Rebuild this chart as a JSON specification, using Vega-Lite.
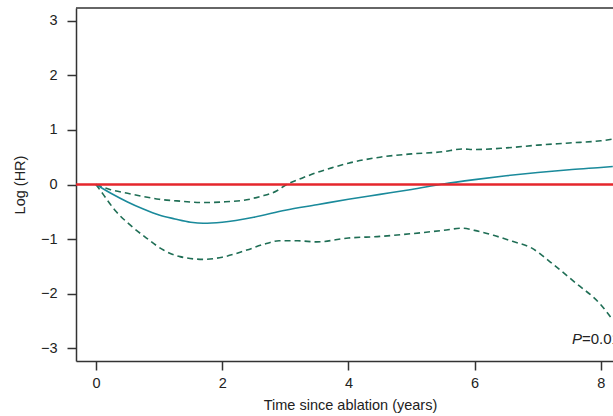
{
  "$schema": "https://vega.github.io/schema/vega-lite/v6.json",
  "width": 537,
  "height": 353,
  "autosize": {"type": "none"},
  "padding": {"left": 76, "top": 8, "right": 0, "bottom": 55},
  "background": "white",
  "config": {
    "view": {"stroke": null},
    "font": "Liberation Sans",
    "axis": {
      "grid": false,
      "labelFont": "Liberation Sans",
      "titleFont": "Liberation Sans",
      "labelFontSize": 14.5,
      "titleFontSize": 14.5,
      "titleFontWeight": "normal",
      "labelColor": "#222",
      "titleColor": "#222",
      "domainColor": "#333",
      "tickColor": "#333",
      "domainWidth": 1.5,
      "tickWidth": 1.5,
      "tickSize": 9
    }
  },
  "datasets": {
    "curves": [
      {"x": 0, "y": 0, "s": "est"},
      {"x": 0.25, "y": -0.17, "s": "est"},
      {"x": 0.5, "y": -0.32, "s": "est"},
      {"x": 0.75, "y": -0.45, "s": "est"},
      {"x": 1.0, "y": -0.56, "s": "est"},
      {"x": 1.25, "y": -0.63, "s": "est"},
      {"x": 1.5, "y": -0.69, "s": "est"},
      {"x": 1.7, "y": -0.71, "s": "est"},
      {"x": 2.0, "y": -0.69, "s": "est"},
      {"x": 2.5, "y": -0.6, "s": "est"},
      {"x": 3.0, "y": -0.47, "s": "est"},
      {"x": 3.5, "y": -0.37, "s": "est"},
      {"x": 4.0, "y": -0.27, "s": "est"},
      {"x": 4.5, "y": -0.18, "s": "est"},
      {"x": 5.0, "y": -0.09, "s": "est"},
      {"x": 5.5, "y": 0.01, "s": "est"},
      {"x": 6.0, "y": 0.09, "s": "est"},
      {"x": 6.5, "y": 0.16, "s": "est"},
      {"x": 7.0, "y": 0.22, "s": "est"},
      {"x": 7.5, "y": 0.27, "s": "est"},
      {"x": 8.0, "y": 0.31, "s": "est"},
      {"x": 8.19, "y": 0.33, "s": "est"},
      {"x": 0, "y": 0, "s": "hi"},
      {"x": 0.22, "y": -0.09, "s": "hi"},
      {"x": 0.5, "y": -0.16, "s": "hi"},
      {"x": 0.75, "y": -0.22, "s": "hi"},
      {"x": 1.0, "y": -0.27, "s": "hi"},
      {"x": 1.28, "y": -0.3, "s": "hi"},
      {"x": 1.7, "y": -0.33, "s": "hi"},
      {"x": 2.0, "y": -0.32, "s": "hi"},
      {"x": 2.39, "y": -0.28, "s": "hi"},
      {"x": 2.6, "y": -0.22, "s": "hi"},
      {"x": 2.86, "y": -0.12, "s": "hi"},
      {"x": 3.02, "y": 0.0, "s": "hi"},
      {"x": 3.25, "y": 0.11, "s": "hi"},
      {"x": 3.5, "y": 0.22, "s": "hi"},
      {"x": 3.75, "y": 0.31, "s": "hi"},
      {"x": 4.0, "y": 0.39, "s": "hi"},
      {"x": 4.5, "y": 0.5, "s": "hi"},
      {"x": 5.0, "y": 0.56, "s": "hi"},
      {"x": 5.5, "y": 0.6, "s": "hi"},
      {"x": 5.8, "y": 0.65, "s": "hi"},
      {"x": 6.0, "y": 0.64, "s": "hi"},
      {"x": 6.5, "y": 0.67, "s": "hi"},
      {"x": 7.0, "y": 0.72, "s": "hi"},
      {"x": 7.5, "y": 0.76, "s": "hi"},
      {"x": 8.0, "y": 0.8, "s": "hi"},
      {"x": 8.19, "y": 0.83, "s": "hi"},
      {"x": 0, "y": 0, "s": "lo"},
      {"x": 0.12, "y": -0.19, "s": "lo"},
      {"x": 0.3, "y": -0.47, "s": "lo"},
      {"x": 0.54, "y": -0.74, "s": "lo"},
      {"x": 0.8, "y": -0.98, "s": "lo"},
      {"x": 1.07, "y": -1.2, "s": "lo"},
      {"x": 1.33, "y": -1.32, "s": "lo"},
      {"x": 1.7, "y": -1.37, "s": "lo"},
      {"x": 2.0, "y": -1.33, "s": "lo"},
      {"x": 2.39, "y": -1.2, "s": "lo"},
      {"x": 2.7, "y": -1.08, "s": "lo"},
      {"x": 2.9, "y": -1.03, "s": "lo"},
      {"x": 3.2, "y": -1.03, "s": "lo"},
      {"x": 3.5, "y": -1.05, "s": "lo"},
      {"x": 4.0, "y": -0.98, "s": "lo"},
      {"x": 4.5, "y": -0.95, "s": "lo"},
      {"x": 5.0, "y": -0.9, "s": "lo"},
      {"x": 5.5, "y": -0.84, "s": "lo"},
      {"x": 5.8, "y": -0.8, "s": "lo"},
      {"x": 6.0, "y": -0.84, "s": "lo"},
      {"x": 6.3, "y": -0.93, "s": "lo"},
      {"x": 6.6, "y": -1.04, "s": "lo"},
      {"x": 6.9, "y": -1.16, "s": "lo"},
      {"x": 7.2, "y": -1.42, "s": "lo"},
      {"x": 7.6, "y": -1.8, "s": "lo"},
      {"x": 8.0, "y": -2.2, "s": "lo"},
      {"x": 8.19, "y": -2.48, "s": "lo"}
    ],
    "one": [{}]
  },
  "layer": [
    {
      "data": {"name": "curves"},
      "transform": [{"filter": "datum.s !== 'est'"}],
      "mark": {"type": "line", "color": "#1f6e55", "strokeWidth": 1.6, "strokeDash": [6, 4], "clip": true, "interpolate": "monotone"},
      "encoding": {
        "x": {
          "field": "x", "type": "quantitative",
          "scale": {"domain": [-0.317, 8.193], "nice": false, "zero": false},
          "axis": {"title": "Time since ablation (years)", "values": [0, 2, 4, 6, 8], "format": "d", "labelPadding": 6, "titleX": 274, "titlePadding": 9}
        },
        "y": {
          "field": "y", "type": "quantitative",
          "scale": {"domain": [-3.23, 3.23], "nice": false, "zero": false},
          "axis": {"title": "Log (HR)", "values": [-3, -2, -1, 0, 1, 2, 3], "format": "d", "labelPadding": 10, "titlePadding": 13}
        },
        "detail": {"field": "s"}
      }
    },
    {
      "data": {"name": "curves"},
      "transform": [{"filter": "datum.s === 'est'"}],
      "mark": {"type": "line", "color": "#1a8a9b", "strokeWidth": 1.6, "clip": true, "interpolate": "monotone"},
      "encoding": {
        "x": {"field": "x", "type": "quantitative"},
        "y": {"field": "y", "type": "quantitative"}
      }
    },
    {
      "data": {"name": "one"},
      "mark": {"type": "rule", "color": "#333", "strokeWidth": 1.5},
      "encoding": {
        "y": {"datum": 3.23, "type": "quantitative"}
      }
    },
    {
      "data": {"name": "one"},
      "mark": {"type": "rule", "color": "#e5262c", "strokeWidth": 2.5},
      "encoding": {
        "y": {"datum": 0, "type": "quantitative"}
      }
    },
    {
      "data": {"name": "one"},
      "mark": {"type": "text", "text": "P", "fontStyle": "italic", "align": "right", "baseline": "middle", "fontSize": 15, "color": "#222", "font": "Liberation Sans"},
      "encoding": {
        "x": {"datum": 7.7, "type": "quantitative"},
        "y": {"datum": -2.825, "type": "quantitative"}
      }
    },
    {
      "data": {"name": "one"},
      "mark": {"type": "text", "text": "=0.01", "align": "left", "baseline": "middle", "fontSize": 15, "color": "#222", "font": "Liberation Sans"},
      "encoding": {
        "x": {"datum": 7.7, "type": "quantitative"},
        "y": {"datum": -2.825, "type": "quantitative"}
      }
    }
  ]
}
